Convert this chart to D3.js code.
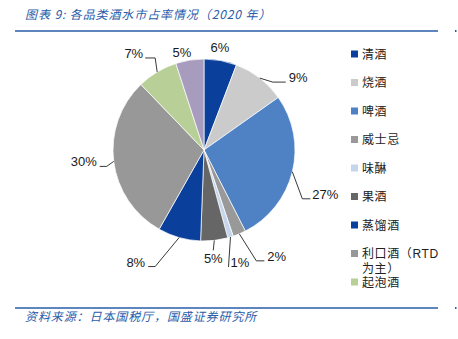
<!DOCTYPE html>
<html><head><meta charset="utf-8">
<script src="https://cdn.jsdelivr.net/npm/d3@7"></script>
<style>
html,body{margin:0;padding:0;background:#fff;}
svg{display:block;}
</style></head>
<body>
<svg id="c" width="458" height="339"></svg>
<script>
// ---- data ----
const categories = ["清酒","烧酒","啤酒","威士忌","味醂","果酒","蒸馏酒","利口酒（RTD为主）","起泡酒","其他"];
const shares = [5.8, 9.4, 27.3, 2.3, 1.0, 4.8, 7.6, 29.6, 7.2, 5.0];
const labels = ["6%","9%","27%","2%","1%","5%","8%","30%","7%","5%"];
const legendItems = ["清酒","烧酒","啤酒","威士忌","味醂","果酒","蒸馏酒","利口酒（RTD|为主）","起泡酒"];
const colors = ["#0a409b","#cbcbcb","#4f82c5","#999999","#c5d6ec","#666666","#0a409b","#989898","#b8cf98","#a89cbe"];
const titleText = "图表 9:  各品类酒水市占率情况（2020 年）";
const sourceText = "资料来源：日本国税厅，国盛证券研究所";

// ---- layout (not data) ----
const cx = 204, cy = 150, R = 91;
const leaderLayout = [
  {free:[16,-98]},
  {elbow:[13,4], tail:13, gap:3},
  {elbow:[10,27], tail:8, gap:2},
  {elbow:[17,27], tail:8, gap:3},
  {elbow:[-2,30], tail:0, gap:2},
  {vert:10, textDy:23},
  {elbow:[-24,29], tail:-7, gap:3},
  {elbow:[-7,5], tail:-7, gap:3},
  {elbow:[-2,-14], tail:-10, gap:2},
  {free:[-22,-93]}
];

const svg = d3.select("#c");
const blue = "#2a5caa";
const cjk = "'Noto Sans CJK SC','Noto Sans',sans-serif";
const legFont = "'Liberation Sans','Noto Sans CJK SC',sans-serif";

// title
svg.append("text").attr("x",25).attr("y",19)
  .attr("font-family",cjk).attr("font-size",12).attr("font-style","italic")
  .attr("letter-spacing",0.9).attr("fill",blue).text(titleText);
svg.append("line").attr("x1",15).attr("x2",438).attr("y1",31).attr("y2",31)
  .attr("stroke",blue).attr("stroke-width",1.6);
svg.append("rect").attr("x",455).attr("y",30).attr("width",1.5).attr("height",2).attr("fill",blue);

// footer
svg.append("line").attr("x1",15).attr("x2",438).attr("y1",308).attr("y2",308)
  .attr("stroke",blue).attr("stroke-width",1.6);
svg.append("rect").attr("x",455).attr("y",307).attr("width",1.5).attr("height",2).attr("fill",blue);
svg.append("text").attr("x",25).attr("y",321)
  .attr("font-family",cjk).attr("font-size",12).attr("font-style","italic")
  .attr("letter-spacing",0.9).attr("fill",blue).text(sourceText);

// pie
const pie = d3.pie().sort(null).value(d=>d)(shares);
const arc = d3.arc().innerRadius(0).outerRadius(R);
const g = svg.append("g").attr("transform",`translate(${cx},${cy})`);
g.selectAll("path").data(pie).join("path")
  .attr("d",arc).attr("fill",(d,i)=>colors[i])
  .attr("stroke","#fff").attr("stroke-width",0.7);

// labels + leaders
const lblFont = "'Liberation Sans',Arial,sans-serif";
pie.forEach((d,i)=>{
  const a = (d.startAngle+d.endAngle)/2;
  const ex = R*Math.sin(a), ey = -R*Math.cos(a);
  const L = leaderLayout[i];
  const t = g.append("text").attr("font-family",lblFont).attr("font-size",13).attr("fill","#1a1a1a").text(labels[i]);
  if (L.free){
    t.attr("x",L.free[0]).attr("y",L.free[1]).attr("text-anchor","middle");
    return;
  }
  if (L.vert){
    g.append("line").attr("x1",ex).attr("y1",ey).attr("x2",ex-1).attr("y2",ey+L.vert)
      .attr("stroke","#222").attr("stroke-width",0.9);
    t.attr("x",ex-1).attr("y",ey+L.textDy).attr("text-anchor","middle");
    return;
  }
  const bx = ex+L.elbow[0], by = ey+L.elbow[1];
  const tx = bx+L.tail;
  g.append("polyline").attr("points",`${ex},${ey} ${bx},${by} ${tx},${by}`)
    .attr("fill","none").attr("stroke","#222").attr("stroke-width",0.9);
  const right = L.tail>=0;
  t.attr("x", right ? tx+L.gap : tx-L.gap).attr("y",by)
    .attr("text-anchor", right ? "start" : "end");
});

// legend
const lg = svg.append("g").attr("transform","translate(351,54)");
legendItems.forEach((name,i)=>{
  const y = i*28.5;
  lg.append("rect").attr("x",0).attr("y",y-3.5).attr("width",7).attr("height",7).attr("fill",colors[i]);
  const parts = name.split("|");
  parts.forEach((p,j)=>{
    lg.append("text").attr("x",11).attr("y",y+4.5+j*14.5)
      .attr("font-family",legFont).attr("font-size",12).attr("letter-spacing",0.6)
      .attr("fill","#222").text(p);
  });
});
</script>
</body></html>
